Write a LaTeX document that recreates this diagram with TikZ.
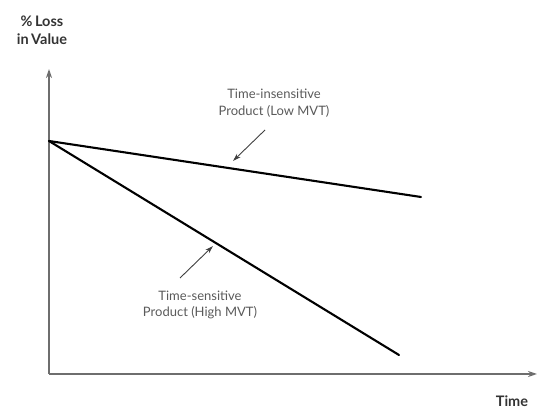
\documentclass[tikz,border=0pt]{standalone}
\usepackage{fontspec}
\setmainfont{Lato}
\usetikzlibrary{arrows.meta}
\definecolor{axisgray}{HTML}{6E6E6E}
\definecolor{labelgray}{HTML}{5A5A5A}
\definecolor{titlegray}{HTML}{333333}
\tikzset{
  axis/.style={draw=axisgray, line width=1.6pt, -{Stealth[length=9pt,width=6pt]}},
  trend/.style={draw=black, line width=2.1pt, line cap=round},
  pointer/.style={draw=black!75, line width=0.9pt, -{Stealth[length=8pt,width=5pt]}},
  caption/.style={text=labelgray, font=\fontsize{13}{16.5}\selectfont, align=center, inner sep=0pt},
  axislabel/.style={text=titlegray, font=\bfseries\fontsize{14.5}{18}\selectfont, align=center, inner sep=0pt}
}
\begin{document}
\begin{tikzpicture}[x=1pt,y=1pt]
\useasboundingbox (0,0) rectangle (538,414);
% axes
\coordinate (origin) at (49,40);
\coordinate (ytop) at (49,345);
\coordinate (xend) at (537,40);
\draw[axis] (origin) -- (ytop);
\draw[axis] (origin) -- (xend);
\node[axislabel] (ylab) at (42,384) {\%\,Loss\\in\,Value};
\node[axislabel] (xlab) at (512,13) {Time};
% value-loss lines
\coordinate (start) at (49,273);
\coordinate (lowend) at (421,217);
\coordinate (highend) at (399,59);
\draw[trend] (start) -- (lowend);
\draw[trend] (start) -- (highend);
% annotations
\node[caption] (lowlab) at (274,311) {Time-insensitive\\Product (Low MVT)};
\node[caption] (highlab) at (200,109) {Time-sensitive\\Product (High MVT)};
\coordinate (lowtail) at (265,284);
\coordinate (lowtip) at (233,253);
\coordinate (hightail) at (180,136);
\coordinate (hightip) at (213,168);
\draw[pointer] (lowtail) -- (lowtip);
\draw[pointer] (hightail) -- (hightip);
\end{tikzpicture}
\end{document}
